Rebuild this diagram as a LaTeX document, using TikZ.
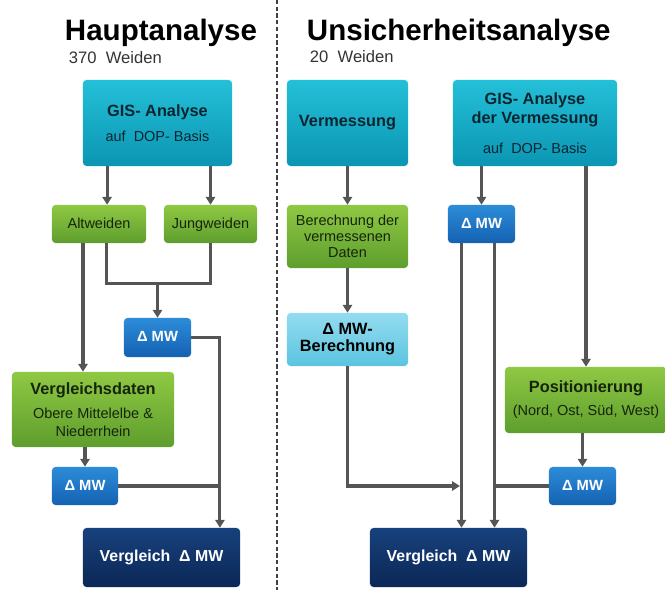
\documentclass[tikz,border=0pt]{standalone}
\usepackage{fontspec}
\setmainfont{Liberation Sans}
\usetikzlibrary{arrows.meta}
\definecolor{cyanT}{HTML}{24BFD8}
\definecolor{cyanB}{HTML}{0B96B3}
\definecolor{cyanTxt}{HTML}{0B2530}
\definecolor{greenT}{HTML}{8FC843}
\definecolor{greenB}{HTML}{5E9E2D}
\definecolor{greenTxt}{HTML}{16240C}
\definecolor{lightT}{HTML}{93DCEF}
\definecolor{lightB}{HTML}{5BC4E0}
\definecolor{mwT}{HTML}{2C8CD8}
\definecolor{mwB}{HTML}{1462B2}
\definecolor{navyT}{HTML}{17417C}
\definecolor{navyB}{HTML}{0B2756}
\definecolor{lineGray}{HTML}{555555}
\tikzset{
  box/.style={rounded corners=2.5pt,inner sep=0pt,align=center,font=\fontsize{10.3}{12.4}\selectfont},
  cyanbox/.style={box,top color=cyanT,bottom color=cyanB,text=cyanTxt,minimum height=2.15cm},
  greenbox/.style={box,top color=greenT,bottom color=greenB,text=greenTxt},
  oneline/.style={text height=1.6ex,text depth=0.4ex},
  lightbox/.style={box,top color=lightT,bottom color=lightB,text=black,font=\bfseries\fontsize{11.6}{12.2}\selectfont},
  mwbox/.style={box,oneline,top color=mwT,bottom color=mwB,text=white,font=\bfseries\fontsize{10.5}{12}\selectfont,minimum width=1.675cm,minimum height=0.95cm},
  vglbox/.style={box,oneline,top color=navyT,bottom color=navyB,text=white,font=\bfseries\fontsize{11.3}{13}\selectfont,minimum width=3.925cm,minimum height=1.475cm},
  conn/.style={draw=lineGray,line width=2.2pt},
  arr/.style={conn,-{Triangle[length=5.5pt,width=6.5pt]}},
  divider/.style={draw=black!75,line width=1.2pt,dash pattern=on 3pt off 1.8pt},
  heading/.style={anchor=base west,font=\bfseries\fontsize{21}{25}\selectfont},
  subhead/.style={anchor=base west,text=black!80,font=\fontsize{11.8}{14}\selectfont},
}
\newcommand{\bt}[1]{{\bfseries\fontsize{11.6}{14}\selectfont #1}}

\begin{document}
\begin{tikzpicture}[x=0.025cm,y=-0.025cm]
  \useasboundingbox (0,0) rectangle (665,590);

  % divider between the two parts
  \draw[divider] (277,0) -- (277,590);

  % headings
  \node[heading] (hTitle) at (60,41) {Hauptanalyse};
  \node[subhead] (hCount) at (64,64) {370~ Weiden};
  \node[heading] (uTitle) at (302,41) {Unsicherheitsanalyse};
  \node[subhead] (uCount) at (305,63) {20~ Weiden};

  % Hauptanalyse
  \node[cyanbox,minimum width=3.725cm] (gisA) at (157.5,123) {\bt{GIS- Analyse}\\[5pt] auf~ DOP- Basis};
  \node[greenbox,oneline,minimum width=2.35cm,minimum height=0.95cm] (alt) at (99,224) {Altweiden};
  \node[greenbox,oneline,minimum width=2.325cm,minimum height=0.95cm] (jung) at (210.5,224) {Jungweiden};
  \node[mwbox,minimum height=0.975cm] (mw1) at (157.5,337.5) {Δ MW};
  \node[greenbox,minimum width=4.05cm,minimum height=1.875cm] (vgldat) at (93,409.5)
    {\bt{Vergleichsdaten}\\[5pt] Obere Mittelelbe \&\\ Niederrhein};
  \node[mwbox,minimum width=1.65cm] (mw2) at (85,486) {Δ MW};
  \node[vglbox] (vgl1) at (161.5,557.5) {Vergleich~ Δ MW};

  % Unsicherheitsanalyse
  \node[cyanbox,minimum width=3.025cm] (verm) at (347.5,123) {\bt{Vermessung}};
  \node[cyanbox,minimum width=4.1cm] (gisB) at (535,123)
    {\bt{GIS- Analyse}\\[1.5pt] \bt{der Vermessung}\\[9pt] auf~ DOP- Basis};
  \node[greenbox,minimum width=3.025cm,minimum height=1.575cm,font=\fontsize{10.3}{11.6}\selectfont] (ber) at (347.5,236.5)
    {Berechnung der\\ vermessenen\\ Daten};
  \node[lightbox,minimum width=3.025cm,minimum height=1.325cm] (mwber) at (347.5,339.5) {Δ MW-\\ Berechnung};
  \node[mwbox] (mw3) at (481.5,224) {Δ MW};
  \node[greenbox,minimum width=4.05cm,minimum height=1.65cm] (pos) at (586,400)
    {\bt{Positionierung}\\[4pt] (Nord, Ost, Süd, West)};
  \node[mwbox] (mw4) at (582.5,486) {Δ MW};
  \node[vglbox] (vgl2) at (448.5,557.5) {Vergleich~ Δ MW};

  % connectors left
  \draw[arr] ([xshift=-1.26cm]gisA.south) -- ([xshift=-1.26cm]gisA.south |- alt.north);
  \draw[arr] (gisA.south -| jung) -- (jung.north);
  \draw[arr] ([xshift=-0.4cm]alt.south) -- ([xshift=-0.4cm]alt.south |- vgldat.north);
  \coordinate (merge) at ([yshift=-1cm]mw1.north |- alt.south);
  \draw[conn] ([xshift=0.18cm]alt.south) |- (merge) -| (jung.south);
  \draw[arr] (merge) -- (mw1.north);
  \coordinate (vjoin) at ([xshift=1.46cm]vgl1.north);
  \draw[arr] (mw1.east) -| (vjoin);
  \draw[arr] (vgldat.south -| mw2) -- (mw2.north);
  \draw[conn] (mw2.east) -- (mw2.east -| vjoin);

  % connectors right
  \draw[arr] (verm) -- (ber);
  \draw[arr] (ber) -- (mwber);
  \draw[arr] (gisB.south -| mw3) -- (mw3.north);
  \coordinate (lineL) at ([xshift=-0.5cm]mw3.south);
  \coordinate (lineR) at ([xshift=0.325cm]mw3.south);
  \draw[arr] (lineL) -- (lineL |- vgl2.north);
  \draw[arr] (lineR) -- (lineR |- vgl2.north);
  \draw[arr] (mwber.south) |- ([xshift=-1.1pt]mw4.west -| lineL);
  \draw[arr] (gisB.south -| pos) -- (pos.north);
  \draw[arr] (pos.south -| mw4) -- (mw4.north);
  \draw[conn] (mw4.west) -- (mw4.west -| lineR);
\end{tikzpicture}
\end{document}
